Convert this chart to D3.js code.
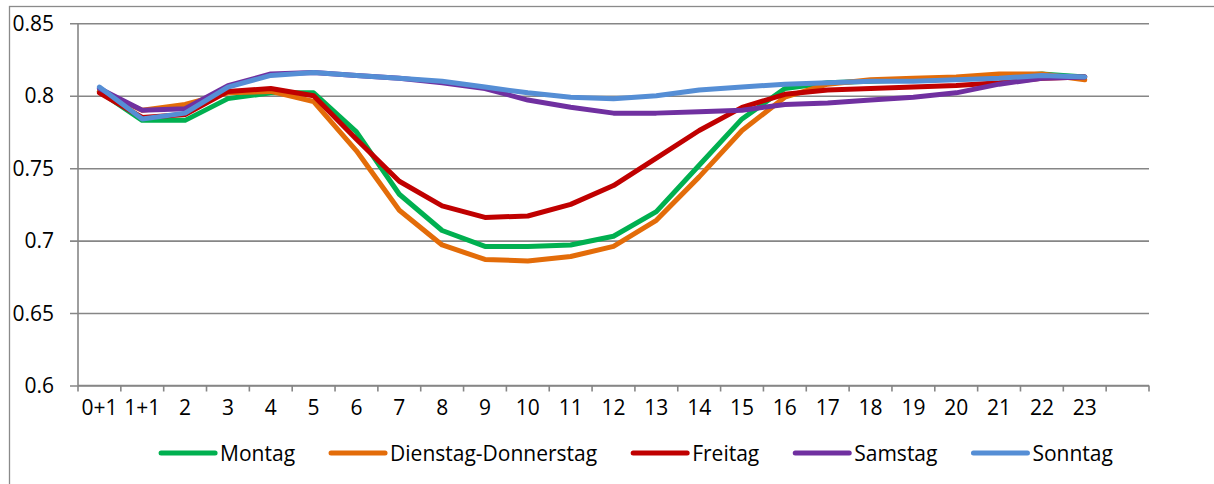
<!DOCTYPE html>
<html>
<head>
<meta charset="utf-8">
<script src="https://cdn.jsdelivr.net/npm/d3@7/dist/d3.min.js"></script>
<style>
  html, body { margin: 0; padding: 0; background: #fff; }
  svg { display: block; }
  text { font-family: "Open Sans", sans-serif; fill: #000; }
</style>
</head>
<body>
<svg id="chart" width="1214" height="484"></svg>
<script>
// ---- data ----
const hours = ["0+1","1+1","2","3","4","5","6","7","8","9","10","11","12","13","14","15","16","17","18","19","20","21","22","23"];
const yTickValues = [0.6, 0.65, 0.7, 0.75, 0.8, 0.85];
const yTickLabels = ["0.6", "0.65", "0.7", "0.75", "0.8", "0.85"];
const seriesNames = ["Montag", "Dienstag-Donnerstag", "Freitag", "Samstag", "Sonntag"];
const seriesColors = ["#00B050", "#E36C09", "#C00000", "#7030A0", "#558ED5"];
const montag   = [0.803,0.783,0.783,0.798,0.802,0.802,0.775,0.732,0.707,0.696,0.696,0.697,0.703,0.720,0.752,0.784,0.805,0.809,0.810,0.811,0.812,0.813,0.815,0.813];
const dienstagDonnerstag = [0.803,0.790,0.794,0.802,0.803,0.796,0.762,0.721,0.697,0.687,0.686,0.689,0.696,0.714,0.744,0.776,0.799,0.808,0.811,0.812,0.813,0.815,0.815,0.811];
const freitag  = [0.802,0.785,0.787,0.803,0.805,0.800,0.770,0.741,0.724,0.716,0.717,0.725,0.738,0.757,0.776,0.792,0.801,0.804,0.805,0.806,0.807,0.809,0.812,0.813];
const samstag  = [0.805,0.790,0.791,0.807,0.815,0.816,0.814,0.812,0.809,0.805,0.797,0.792,0.788,0.788,0.789,0.790,0.794,0.795,0.797,0.799,0.802,0.808,0.812,0.813];
const sonntag  = [0.806,0.784,0.788,0.806,0.814,0.816,0.814,0.812,0.810,0.806,0.802,0.799,0.798,0.800,0.804,0.806,0.808,0.809,0.810,0.810,0.811,0.812,0.814,0.813];
const seriesValues = [montag, dienstagDonnerstag, freitag, samstag, sonntag];

// ---- layout ----
const svg = d3.select("#chart");
const plot = { left: 78, right: 1149, top: 23.3, bottom: 385.5 };
const gridColor = "#868686";
const fontSize = "21px";

// outer chart border (extends beyond the visible frame on right/bottom)
svg.append("rect")
  .attr("x", 9.5).attr("y", 6.5).attr("width", 1400).attr("height", 800)
  .attr("fill", "none").attr("stroke", "#8a8a8a").attr("stroke-width", 1.3);

// one extra empty category slot at the end, as in the original axis
const xDomain = hours.concat([" "]);
const x = d3.scaleBand().domain(xDomain).range([plot.left, plot.right]).padding(0);
const y = d3.scaleLinear().domain([0.6, 0.85]).range([plot.bottom, plot.top]);

// horizontal gridlines + y axis
const yAxis = d3.axisLeft(y)
  .tickValues(yTickValues)
  .tickFormat((d, i) => yTickLabels[i])
  .tickSize(-(plot.right - plot.left))
  .tickPadding(24);
const gy = svg.append("g").attr("transform", `translate(${plot.left},0)`).call(yAxis);
gy.select(".domain").remove();
gy.selectAll(".tick line").attr("stroke", gridColor).attr("stroke-width", 1.6).attr("x1", -8);
gy.selectAll(".tick text")
  .style("font-family", "'Open Sans', sans-serif").style("font-size", fontSize)
  .attr("fill", "#000").attr("dy", "0.34em");

// left axis line
svg.append("line")
  .attr("x1", plot.left).attr("x2", plot.left)
  .attr("y1", y(0.85)).attr("y2", y(0.6))
  .attr("stroke", gridColor).attr("stroke-width", 1.6);

// x axis labels at category centres
const xAxis = d3.axisBottom(x).tickSize(0).tickPadding(15);
const gx = svg.append("g").attr("transform", `translate(0,${plot.bottom})`).call(xAxis);
gx.select(".domain").remove();
gx.selectAll(".tick text")
  .style("font-family", "'Open Sans', sans-serif").style("font-size", fontSize)
  .attr("fill", "#000");

// x axis line and boundary tick marks
svg.append("line")
  .attr("x1", plot.left).attr("x2", plot.right)
  .attr("y1", plot.bottom).attr("y2", plot.bottom)
  .attr("stroke", gridColor).attr("stroke-width", 1.6);
const boundaries = xDomain.map(d => x(d)).concat([x.range()[1]]);
svg.append("g").selectAll("line").data(boundaries).join("line")
  .attr("x1", d => d).attr("x2", d => d)
  .attr("y1", plot.bottom).attr("y2", plot.bottom + 6)
  .attr("stroke", gridColor).attr("stroke-width", 1.6);

// series lines
const line = d3.line()
  .x((d, i) => x(hours[i]) + x.bandwidth() / 2)
  .y(d => y(d));
svg.append("g").selectAll("path").data(seriesValues).join("path")
  .attr("d", d => line(d))
  .attr("fill", "none")
  .attr("stroke", (d, i) => seriesColors[i])
  .attr("stroke-width", 5)
  .attr("stroke-linejoin", "round")
  .attr("stroke-linecap", "round");

// legend
const legendY = 453;
const lineLen = 54, textGap = 5, itemGap = 36, legendCenter = 637;
const lg = svg.append("g");
const items = lg.selectAll("g").data(seriesNames).join("g");
items.append("line")
  .attr("x1", 0).attr("x2", lineLen).attr("y1", 0).attr("y2", 0)
  .attr("stroke", (d, i) => seriesColors[i]).attr("stroke-width", 5)
  .attr("stroke-linecap", "round");
items.append("text")
  .attr("x", lineLen + textGap).attr("y", 8)
  .style("font-size", fontSize)
  .text(d => d);
let cursor = 0;
const offsets = [];
items.each(function () {
  const w = d3.select(this).select("text").node().getComputedTextLength();
  offsets.push(cursor);
  cursor += lineLen + textGap + w + itemGap;
});
const totalW = cursor - itemGap;
const startX = legendCenter - totalW / 2;
items.attr("transform", (d, i) => `translate(${startX + offsets[i]},${legendY})`);
</script>
</body>
</html>
